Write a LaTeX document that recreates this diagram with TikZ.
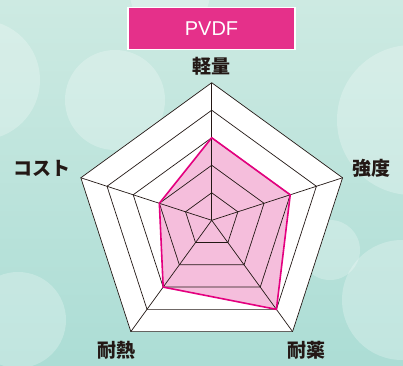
\documentclass[tikz,border=0pt]{standalone}
\usepackage{fontspec}
\newfontfamily\jpfont{Noto Sans CJK JP}
\newfontfamily\titlefont{Liberation Sans}

\definecolor{mintlight}{HTML}{CDEAE2}
\definecolor{mintdark}{HTML}{ACDDD5}
\definecolor{pvdfmagenta}{HTML}{E5308A}
\definecolor{radarline}{HTML}{E4007F}
\definecolor{radarfill}{HTML}{F5BEDC}
\definecolor{gridink}{HTML}{231815}

\tikzset{
  bokeh/.style={fill=white, opacity=0.25},
  gridline/.style={draw=gridink, line width=0.7pt, line join=miter},
  axislabel/.style={font=\jpfont\bfseries\fontsize{19}{19}\selectfont, text=gridink, inner sep=0pt},
}

\begin{document}
\begin{tikzpicture}[x=1pt,y=1pt]
  \begin{scope}
    \clip (0,0) rectangle (403,365);
    \shade[top color=mintlight, bottom color=mintdark] (0,0) rectangle (403,365);
    % bokeh circles
    \fill[bokeh] (-20,285) circle (60);
    \fill[bokeh] (115,265) circle (50);
    \fill[bokeh] (412,245) circle (75);
    \fill[bokeh] (18,45) circle (48);
    \fill[bokeh] (402,65) circle (60);
    \fill[bokeh] (330,115) circle (30);
    \fill[bokeh] (170,372) circle (40);
  \end{scope}

  \begin{scope}[shift={(211.7,144.7)}]
    \coordinate (c) at (0,0);
    \foreach \ang [count=\i] in {90,18,-54,-126,162}
      \coordinate (v\i) at (\ang:137.6);
    \foreach \ang/\val [count=\i] in {90/3,18/3,-54/4,-126/3,162/2}
      \coordinate (d\i) at (\ang:\val*27.52);

    \fill[white] (v1) -- (v2) -- (v3) -- (v4) -- (v5) -- cycle;
    \fill[radarfill] (d1) -- (d2) -- (d3) -- (d4) -- (d5) -- cycle;

    \foreach \k in {1,...,5}
      \draw[gridline] (90:\k*27.52) -- (18:\k*27.52) -- (-54:\k*27.52)
        -- (-126:\k*27.52) -- (162:\k*27.52) -- cycle;
    \foreach \i in {1,...,5}
      \draw[gridline] (c) -- (v\i);

    \draw[radarline, line width=1.6pt, line join=miter]
      (d1) -- (d2) -- (d3) -- (d4) -- (d5) -- cycle;
  \end{scope}

  \node (title) at (211.5,336.7) [fill=pvdfmagenta, draw=white, line width=1.2pt,
    minimum width=167pt, minimum height=42pt, inner sep=0pt,
    text=white, font=\titlefont\fontsize{20}{20}\selectfont] {PVDF};

  \node (light)    at (211,298.3)   [axislabel] {軽量};
  \node (strength) at (371,196.7)   [axislabel] {強度};
  \node (chem)     at (306.7,14.3)  [axislabel] {耐薬};
  \node (heat)     at (116.7,14.3)  [axislabel] {耐熱};
  \node (cost)     at (41.7,196.7)  [axislabel] {コスト};
\end{tikzpicture}
\end{document}
